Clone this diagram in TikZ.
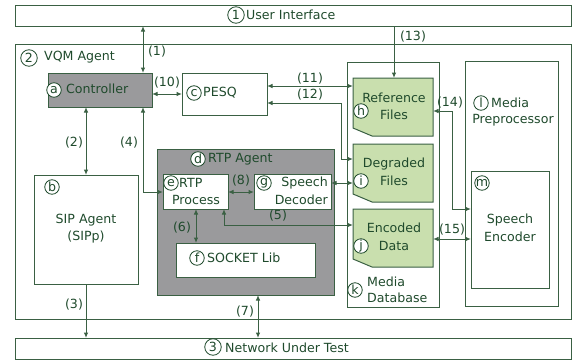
\documentclass[tikz,border=0pt]{standalone}
\usepackage{fontspec}
\setmainfont{DejaVu Sans}
\usetikzlibrary{fit,arrows.meta}
\definecolor{linec}{HTML}{3A6043}
\definecolor{textc}{HTML}{1F4A2C}
\definecolor{agentgray}{HTML}{9A9A9C}
\definecolor{filegreen}{HTML}{C9DFAE}
\tikzset{
  frame/.style={draw=linec, line width=1pt, inner sep=0pt, outer sep=0pt, rectangle},
  grayframe/.style={frame, fill=agentgray},
  whiteframe/.style={frame, fill=white},
  slot/.style={inner sep=0pt, outer sep=0pt, rectangle},
  txt/.style={text=textc, inner sep=0pt, font=\fontsize{12.6}{14}\selectfont},
  circ/.style={circle, draw=textc, line width=0.8pt, fill=white, inner sep=0pt,
               minimum size=14.5pt, text=textc, font=\fontsize{12.6}{12}\selectfont},
  bigcirc/.style={circ, minimum size=16.5pt},
  conn/.style={draw=linec, line width=1pt},
  both/.style={conn, {Latex[length=5.5pt,width=4.5pt]}-{Latex[length=5.5pt,width=4.5pt]}},
  fwd/.style={conn, -{Latex[length=5.5pt,width=4.5pt]}},
  lbl/.style={txt}
}
\begin{document}
\begin{tikzpicture}[x=1pt,y=-1pt]
\useasboundingbox (0,0) rectangle (573,362);

% outer frames
\node[frame, fit={(15,5)(571,26)}] (ui) {};
\node[frame, fit={(15,44)(571,319)}] (vqm) {};
\node[frame, fit={(15,338)(571,359)}] (net) {};

\node[bigcirc] (c1) at (236,15) {1};
\node[txt, anchor=west] (uit) at (246,15) {User Interface};
\node[bigcirc] (c2) at (29,58) {2};
\node[txt, anchor=west] (vqmt) at (44,57) {VQM Agent};
\node[bigcirc] (c3) at (213,347) {3};
\node[txt, anchor=west] (nett) at (225,348) {Network Under Test};

% controller and PESQ
\node[grayframe, fit={(48,73)(152,107)}] (ctrl) {};
\node[circ] (ca) at (54,90) {a};
\node[txt, anchor=west] (ctrlt) at (66,89) {Controller};
\node[frame, fit={(182,73)(267,115)}] (pesq) {};
\node[circ] (cc) at (194,93) {c};
\node[txt, anchor=west] (pesqt) at (203,93) {PESQ};

% SIP agent
\node[frame, fit={(34,175)(138,284)}] (sip) {};
\node[circ] (cb) at (52,187) {b};
\node[txt] (sipt1) at (86,220) {SIP Agent};
\node[txt] (sipt2) at (86,237) {(SIPp)};

% RTP agent
\node[grayframe, fit={(157,149)(334,295)}] (rtpa) {};
\node[circ] (cd) at (198,159) {d};
\node[txt, anchor=west] (rtpat) at (208,159) {RTP Agent};
\node[whiteframe, fit={(163,174)(228,209)}] (rtpp) {};
\node[circ] (ce) at (171,183) {e};
\node[txt, anchor=west] (rtppt1) at (179,183) {RTP};
\node[txt] (rtppt2) at (196,200) {Process};
\node[whiteframe, fit={(254,174)(331,209)}] (dec) {};
\node[circ] (cg) at (264,183) {g};
\node[txt, anchor=east] (dect1) at (328,183) {Speech};
\node[txt, anchor=east] (dect2) at (328,200) {Decoder};
\node[whiteframe, fit={(176,243)(315,277)}] (sock) {};
\node[circ] (cf) at (197,258) {f};
\node[txt, anchor=west] (sockt) at (207,258) {SOCKET Lib};

% media database with its three files
\node[frame, fit={(347,62)(439,307)}] (mdb) {};
\node[circ] (ck) at (355,290) {k};
\node[txt, anchor=west] (mdbt1) at (367,282) {Media};
\node[txt, anchor=west] (mdbt2) at (367,298) {Database};

\node[slot, fit={(353,78)(433,136)}] (ref) {};
\node[slot, fit={(353,144)(433,202)}] (deg) {};
\node[slot, fit={(353,209)(433,267)}] (enc) {};
\foreach \f in {ref,deg,enc}{
  \filldraw[draw=linec, line width=1pt, fill=filegreen]
    (\f.north west) -- (\f.north east) -- (\f.south east)
    -- ([xshift=19pt]\f.south west) -- ([yshift=8pt]\f.south west) -- cycle;
}
\node[circ] (ch) at (361,111) {h};
\node[txt] (reft1) at (394,98) {Reference};
\node[txt] (reft2) at (394,115) {Files};
\node[circ] (ci) at (361,181) {i};
\node[txt] (degt1) at (394,164) {Degraded};
\node[txt] (degt2) at (394,181) {Files};
\node[circ] (cj) at (361,246) {j};
\node[txt] (enct1) at (394,228) {Encoded};
\node[txt] (enct2) at (394,246) {Data};

% media preprocessor
\node[frame, fit={(465,61)(558,306)}] (mpre) {};
\node[circ] (cl) at (481,103) {l};
\node[txt, anchor=west] (mpret1) at (491,103) {Media};
\node[txt] (mpret2) at (513,120) {Preprocessor};
\node[frame, fit={(471,171)(549,288)}] (senc) {};
\node[circ] (cm) at (482,183) {m};
\node[txt] (senct1) at (510,220) {Speech};
\node[txt] (senct2) at (510,237) {Encoder};

% routing positions for the connectors
\coordinate (xa) at (143,0);
\coordinate (xb) at (86,0);
\coordinate (x5) at (224,0);
\coordinate (x6) at (196,0);
\coordinate (x7) at (258,0);
\coordinate (x12) at (341,0);
\coordinate (x13) at (394,0);
\coordinate (x14) at (452,0);
\coordinate (y4) at (0,192);
\coordinate (y5) at (0,225);
\coordinate (y8) at (0,192);
\coordinate (y10) at (0,94);
\coordinate (y11) at (0,86);
\coordinate (y12) at (0,103);
\coordinate (y12b) at (0,159);
\coordinate (ydeg) at (0,183);
\coordinate (y14) at (0,111);
\coordinate (y14b) at (0,209);
\coordinate (y15) at (0,239);

% connectors
\draw[both] (ui.south -| xa) -- (ctrl.north -| xa);
\draw[both] (ctrl.east |- y10) -- (pesq.west |- y10);
\draw[both] (ctrl.south -| xb) -- (sip.north -| xb);
\draw[both] (ctrl.south -| xa) -- (xa |- y4) -- (rtpp.west |- y4);
\draw[fwd] (sip.south -| xb) -- (net.north -| xb);
\draw[both] (rtpp.east |- y8) -- (dec.west |- y8);
\draw[both] (rtpp.south -| x6) -- (sock.north -| x6);
\draw[both] (enc.west |- y5) -- (x5 |- y5) -- (rtpp.south -| x5);
\draw[both] (dec.east |- ydeg) -- (deg.west |- ydeg);
\draw[both] (rtpa.south -| x7) -- (net.north -| x7);
\draw[both] (pesq.east |- y11) -- (ref.west |- y11);
\draw[both] (pesq.east |- y12) -- (x12 |- y12) -- (x12 |- y12b) -- (deg.west |- y12b);
\draw[fwd] (ui.south -| x13) -- (ref.north -| x13);
\draw[both] (ref.east |- y14) -- (x14 |- y14) -- (x14 |- y14b) -- (senc.west |- y14b);
\draw[both] (enc.east |- y15) -- (senc.west |- y15);

% connector labels
\node[lbl] (l1) at (157,52) {(1)};
\node[lbl] (l2) at (74,143) {(2)};
\node[lbl] (l3) at (74,305) {(3)};
\node[lbl] (l4) at (129,143) {(4)};
\node[lbl] (l5) at (278,216) {(5)};
\node[lbl] (l6) at (182,228) {(6)};
\node[lbl] (l7) at (245,312) {(7)};
\node[lbl] (l8) at (241,181) {(8)};
\node[lbl] (l10) at (167,83) {(10)};
\node[lbl] (l11) at (310,79) {(11)};
\node[lbl] (l12) at (310,95) {(12)};
\node[lbl] (l13) at (413,37) {(13)};
\node[lbl] (l14) at (450,103) {(14)};
\node[lbl] (l15) at (452,230) {(15)};
\end{tikzpicture}
\end{document}
